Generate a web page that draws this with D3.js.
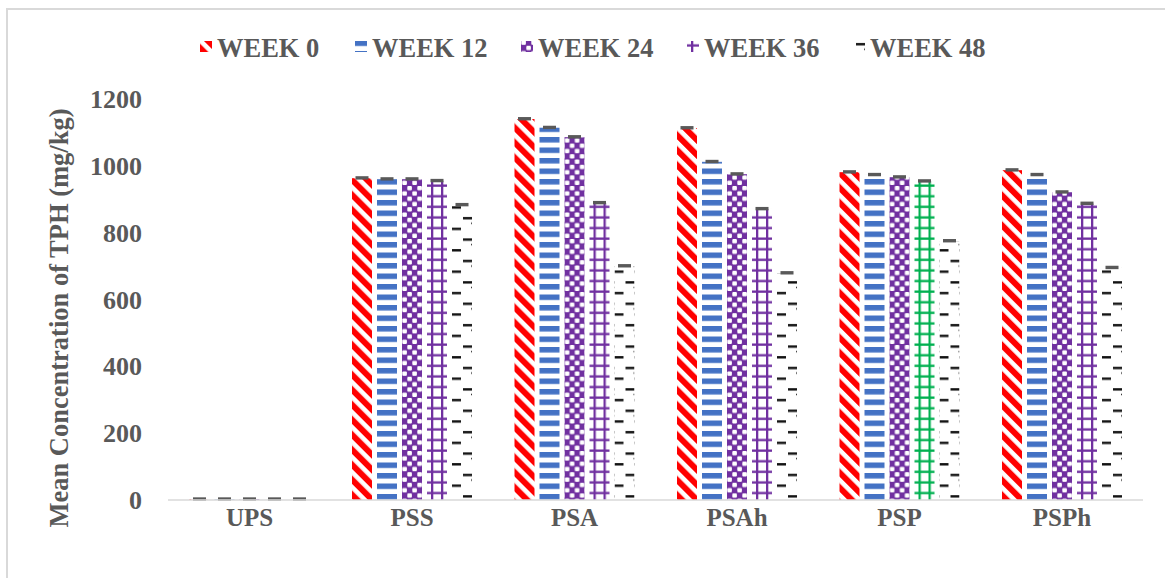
<!DOCTYPE html>
<html><head><meta charset="utf-8">
<script src="https://cdn.jsdelivr.net/npm/d3@7"></script>
<style>
html,body{margin:0;padding:0;background:#fff;}
text{font-family:"Liberation Serif","Times New Roman",serif;font-weight:bold;fill:#595959;}
</style></head>
<body><svg id="c" width="1165" height="578"></svg>
<script>
const categories = ["UPS","PSS","PSA","PSAh","PSP","PSPh"];
const series = ["WEEK 0","WEEK 12","WEEK 24","WEEK 36","WEEK 48"];
const week0  = [2, 963, 1140, 1113, 981, 987];
const week12 = [2, 960, 1114, 1012, 973, 973];
const week24 = [2, 960, 1086, 975, 966, 921];
const week36 = [2, 955, 889, 871, 954, 887];
const week48 = [2, 883, 700, 679, 775, 695];
const yTicks = [0,200,400,600,800,1000,1200];
const values = [week0, week12, week24, week36, week48];

const svg = d3.select("#c");
const defs = svg.append("defs");

// frame
svg.append("rect").attr("x",7).attr("y",9).attr("width",1220).attr("height",620)
  .attr("fill","none").attr("stroke","#d9d9d9").attr("stroke-width",2);

const y = d3.scaleLinear().domain([0,1200]).range([500,99]);
const x0 = d3.scaleBand().domain(categories).range([168.25,1143.25]).paddingInner(0).paddingOuter(0);
const x1 = d3.scaleBand().domain(series).range([-62.5,62.5]).paddingInner(0.2).paddingOuter(0.1);

const RED="#FF0000", BLUE="#4472C4", PURPLE="#7030A0", GREEN="#00B050";

function pat(id, px, py, w, h, transform){
  const p = defs.append("pattern").attr("id",id).attr("patternUnits","userSpaceOnUse")
    .attr("x",px).attr("y",py).attr("width",w).attr("height",h);
  if(transform) p.attr("patternTransform",transform);
  p.append("rect").attr("width",w).attr("height",h).attr("fill","#fff");
  return p;
}
function makePattern(id, s, px, py, color){
  if(s===0){
    const p = pat(id, px, py, 10.6, 10.6, "rotate(-45)");
    p.append("rect").attr("x",0).attr("y",0).attr("width",6).attr("height",10.6).attr("fill",RED);
  } else if(s===1){
    const p = pat(id, px, py+0.5, 10.5, 10.5);
    p.append("rect").attr("x",0).attr("y",0).attr("width",10.5).attr("height",5.5).attr("fill",BLUE);
  } else if(s===2){
    const p = pat(id, px, py, 10, 10.6);
    p.append("rect").attr("width",10).attr("height",10.6).attr("fill",PURPLE);
    p.append("rect").attr("x",0.3).attr("y",0.5).attr("width",4.6).attr("height",4.4).attr("rx",1).attr("fill","#fff");
    p.append("rect").attr("x",5.3).attr("y",5.8).attr("width",4.6).attr("height",4.4).attr("rx",1).attr("fill","#fff");
  } else if(s===3){
    const p = pat(id, px, py, 10, 10.6);
    p.append("rect").attr("x",4).attr("y",0).attr("width",2.3).attr("height",10.6).attr("fill",color||PURPLE);
    p.append("rect").attr("x",0).attr("y",4.3).attr("width",10).attr("height",2.3).attr("fill",color||PURPLE);
  } else {
    const p = pat(id, px, py, 20, 21.4);
    p.append("rect").attr("x",11).attr("y",3).attr("width",9).attr("height",2.4).attr("fill","#111");
    p.append("rect").attr("x",0).attr("y",13.7).attr("width",9).attr("height",2.4).attr("fill","#111");
    p.append("rect").attr("x",19).attr("y",8.5).attr("width",1).attr("height",1.5).attr("fill","#333");
  }
}

// bars
const bars = [];
categories.forEach((c,ci)=>{
  series.forEach((s,si)=>{
    bars.push({c, ci, s, si, v: values[si][ci]});
  });
});

bars.forEach(d=>{
  const bx = x0(d.c) + x0.bandwidth()/2 + x1(d.s);
  const color = (d.si===3 && d.c==="PSP") ? GREEN : null;
  d.id = "p_"+d.ci+"_"+d.si;
  d.bx = bx;
  makePattern(d.id, d.si, bx, 0, color);
});

const g = svg.append("g");
g.selectAll("rect.bar").data(bars).join("rect").attr("class","bar")
  .attr("x",d=>d.bx).attr("width",x1.bandwidth())
  .attr("y",d=>y(d.v)).attr("height",d=>y(0)-y(d.v))
  .attr("fill",d=>`url(#${d.id})`);

// axis line
svg.append("line").attr("x1",168).attr("x2",1143).attr("y1",y(0)).attr("y2",y(0))
  .attr("stroke","#d9d9d9").attr("stroke-width",1.5);

// error caps
g.selectAll("rect.err").data(bars).join("rect").attr("class","err")
  .attr("x",d=>d.bx + x1.bandwidth()/2 - 6.5).attr("width",13)
  .attr("y",d=>y(d.v)-2).attr("height",3.4).attr("fill","#595959");

// y axis ticks
svg.append("g").selectAll("text").data(yTicks).join("text")
  .attr("x",142).attr("y",d=>y(d)).attr("dy","0.35em").attr("text-anchor","end")
  .attr("font-size",26).text(d=>d);

// x labels
svg.append("g").selectAll("text").data(categories).join("text")
  .attr("x",d=>x0(d)+x0.bandwidth()/2).attr("y",526).attr("text-anchor","middle")
  .attr("font-size",25).text(d=>d);

// y title
svg.append("text").attr("transform","translate(68,318) rotate(-90)")
  .attr("text-anchor","middle").attr("font-size",26.5)
  .text("Mean Concentration of TPH (mg/kg)");

// legend
const legX = [200, 355, 521, 687, 853];
series.forEach((s,i)=>{
  makePattern("leg"+i, i, i===4 ? legX[i]-8 : legX[i], 40, null);
  svg.append("rect").attr("x",legX[i]).attr("y",41).attr("width",12).attr("height",11)
    .attr("fill",`url(#leg${i})`);
  svg.append("text").attr("x",legX[i]+17).attr("y",57).attr("font-size",26.5).text(s);
});
</script></body></html>
